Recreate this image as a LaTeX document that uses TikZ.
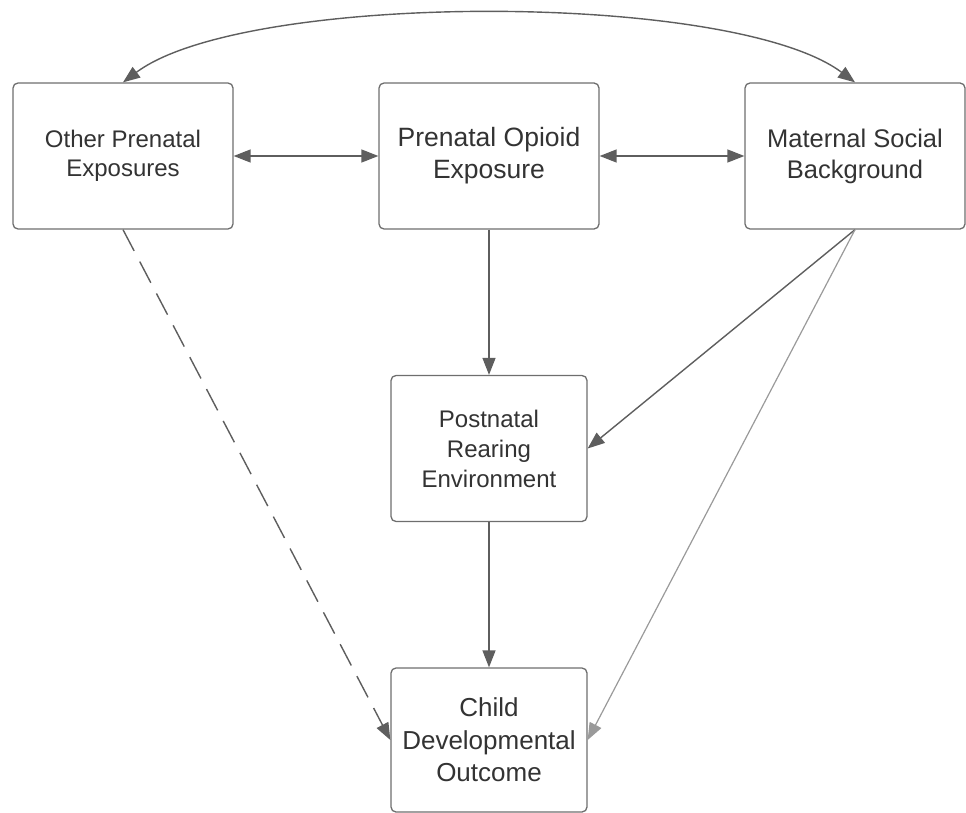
\documentclass[tikz,border=0pt]{standalone}
\usepackage{fontspec}
\setmainfont{Liberation Sans}
\usetikzlibrary{arrows.meta}
\definecolor{linegray}{HTML}{5E5E5E}
\definecolor{boxgray}{HTML}{6E6E6E}
\definecolor{lightline}{HTML}{9A9A9A}
\definecolor{textgray}{HTML}{333333}
\tikzset{
  box/.style={draw=boxgray, line width=1.3pt, rounded corners=5pt, fill=white,
    align=center, text=textgray, inner sep=0pt},
  wide/.style={minimum width=220pt, minimum height=146pt},
  narrow/.style={minimum width=196pt, minimum height=146pt},
  conn/.style={draw=linegray, line width=1.4pt,
    -{Triangle[length=17pt,width=13pt]}},
  biconn/.style={draw=linegray, line width=1.4pt,
    {Triangle[length=17pt,width=13pt]}-{Triangle[length=17pt,width=13pt]}},
  dashconn/.style={conn, dash pattern=on 24pt off 12pt},
  lightconn/.style={draw=lightline, line width=1.2pt,
    -{Triangle[length=17pt,width=13pt,fill=lightline]}},
}
\begin{document}
\begin{tikzpicture}[x=1pt,y=-1pt]
\useasboundingbox (0,0) rectangle (966,813);
\node[box,wide,font=\fontsize{24}{29.5}\selectfont] (A) at (123,156) {Other Prenatal\\Exposures};
\node[box,wide,font=\fontsize{26.5}{32}\selectfont] (B) at (489,156) {Prenatal Opioid\\Exposure};
\node[box,wide,font=\fontsize{25.5}{31}\selectfont] (C) at (855,156) {Maternal Social\\Background};
\node[box,narrow,font=\fontsize{24}{30}\selectfont] (D) at (489,448.5) {Postnatal\\Rearing\\Environment};
\node[box,narrow,minimum height=144pt,font=\fontsize{26}{32.5}\selectfont] (E) at (489,740) {Child\\Developmental\\Outcome};
\draw[biconn] (A) -- (B);
\draw[biconn] (B) -- (C);
\draw[biconn] (A.north) .. controls (245,-9) and (733,-9) .. (C.north);
\draw[conn] (B) -- (D);
\draw[conn] (D) -- (E);
\draw[conn] (C.south) -- (D.east);
\draw[lightconn] (C.south) -- (E.east);
\draw[dashconn] (A.south) -- (E.west);
\end{tikzpicture}
\end{document}
